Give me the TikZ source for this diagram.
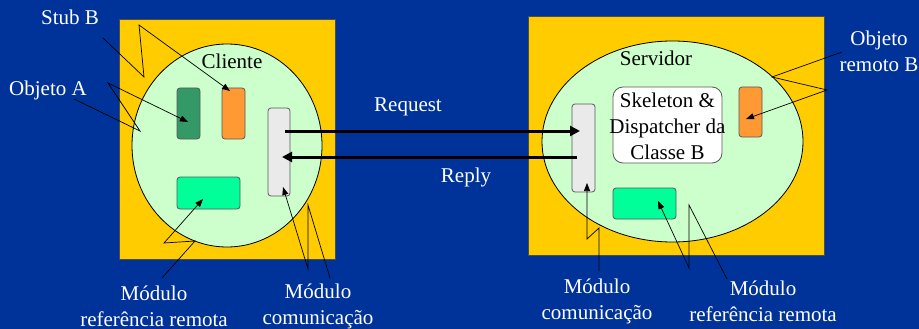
\documentclass[tikz,border=0pt]{standalone}
\usepackage{fontspec}
\setmainfont{Liberation Serif}
\usetikzlibrary{arrows.meta,shapes.geometric}
\definecolor{bg}{RGB}{0,51,153}
\definecolor{yel}{RGB}{255,204,0}
\definecolor{lgreen}{RGB}{204,255,204}
\definecolor{dgreen}{RGB}{51,153,102}
\definecolor{orng}{RGB}{255,153,51}
\definecolor{gry}{RGB}{234,234,234}
\definecolor{bgreen}{RGB}{0,255,153}
\begin{document}
\begin{tikzpicture}[x=1pt,y=-1pt,
  frame/.style={draw=black!70, fill=yel, line width=0.8pt, inner sep=0, minimum width=#1},
  proc/.style={ellipse, draw=black, fill=lgreen, line width=0.8pt, inner sep=0},
  comp/.style={draw=black!65, rounded corners=3pt, line width=0.8pt, inner sep=0},
  lbl/.style={text=white, font=\fontsize{21}{26}\selectfont, align=center, inner sep=0},
  ilbl/.style={text=black, font=\fontsize{21}{26}\selectfont, align=center, inner sep=0},
  callout/.style={draw=black, line width=0.7pt, line join=miter},
  ctip/.style={-{Triangle[length=8pt,width=6pt]}},
  msg/.style={draw=black, line width=3pt, -{Triangle[length=10pt,width=10pt]}}]
\fill[bg] (0,0) rectangle (919,329);
\useasboundingbox (0,0) rectangle (919,329);
% client
\node[frame=216, minimum height=240] (lbox) at (227,139) {};
\node[proc, minimum width=190, minimum height=203] (lell) at (227,145.5) {};
\node[ilbl] (cliente) at (232,61) {Cliente};
\node[comp, fill=dgreen, minimum width=23, minimum height=51] (obja) at (188.5,113.5) {};
\node[comp, fill=orng, minimum width=23, minimum height=51] (stubb) at (233.5,113.5) {};
\node[comp, fill=gry, minimum width=22, minimum height=88] (lcomm) at (279,152) {};
\node[comp, fill=bgreen, minimum width=63, minimum height=32] (lref) at (208.5,193) {};
% server
\node[frame=296, minimum height=239] (sbox) at (676,135.5) {};
\node[proc, minimum width=261, minimum height=201] (sell) at (672.5,141.5) {};
\node[ilbl] (servidor) at (656,58) {Servidor};
\node[comp, fill=white, rounded corners=10pt, minimum width=109, minimum height=76] (skel) at (667.5,125) {};
\node[ilbl] (skeltxt) at (667.5,126) {Skeleton \&\\Dispatcher da\\Classe B};
\node[comp, fill=gry, minimum width=23, minimum height=88] (scomm) at (583.5,148) {};
\node[comp, fill=orng, minimum width=23, minimum height=50] (sobj) at (750.5,112) {};
\node[comp, fill=bgreen, minimum width=63, minimum height=31] (sref) at (644.5,203.5) {};
% labels
\node[lbl] (lstub) at (70,17) {Stub B};
\node[lbl] (lobja) at (48,90) {Objeto A};
\node[lbl] (lreq) at (408,107) {Request};
\node[lbl] (lrep) at (466,177) {Reply};
\node[lbl] (lobjb) at (879,51) {Objeto\\remoto B};
\node[lbl] (llref) at (154,306) {Módulo\\referência remota};
\node[lbl] (llcomm) at (318,306) {Módulo\\comunicação};
\node[lbl] (lscomm) at (597,301) {Módulo\\comunicação};
\node[lbl] (lsref) at (763,301) {Módulo\\referência remota};
% callout points
\coordinate (c1a) at (103,38); \coordinate (c1b) at (144,77); \coordinate (c1c) at (139,25); \coordinate (c1d) at (230,91);
\coordinate (c2a) at (74,99); \coordinate (c2b) at (140,131); \coordinate (c2c) at (108,83); \coordinate (c2d) at (188,122);
\coordinate (c3a) at (162,278); \coordinate (c3b) at (195,241); \coordinate (c3c) at (164,243); \coordinate (c3d) at (203,199);
\coordinate (c4a) at (330,278); \coordinate (c4b) at (308,205); \coordinate (c4c) at (308,269); \coordinate (c4d) at (283,187);
\coordinate (c5a) at (842,52); \coordinate (c5b) at (772,77); \coordinate (c5c) at (827,90); \coordinate (c5d) at (746,119);
\coordinate (c6a) at (599,271); \coordinate (c6b) at (599,228); \coordinate (c6c) at (587,239); \coordinate (c6d) at (587,183);
\coordinate (c7a) at (727,279); \coordinate (c7b) at (689,205); \coordinate (c7c) at (689,268); \coordinate (c7d) at (658,201);
\draw[callout, ctip] (c1a) -- (c1b) -- (c1c) -- (c1d);
\draw[callout, ctip] (c2a) -- (c2b) -- (c2c) -- (c2d);
\draw[callout, ctip] (c3a) -- (c3b) -- (c3c) -- (c3d);
\draw[callout, ctip] (c4a) -- (c4b) -- (c4c) -- (c4d);
\draw[callout, ctip] (c5a) -- (c5b) -- (c5c) -- (c5d);
\draw[callout, ctip] (c6a) -- (c6b) -- (c6c) -- (c6d);
\draw[callout, ctip] (c7a) -- (c7b) -- (c7c) -- (c7d);
% messages
\coordinate (reqa) at (285,131); \coordinate (reqb) at (580,131);
\coordinate (repa) at (577,157); \coordinate (repb) at (282,157);
\draw[msg] (reqa) -- (reqb);
\draw[msg] (repa) -- (repb);
\end{tikzpicture}
\end{document}
